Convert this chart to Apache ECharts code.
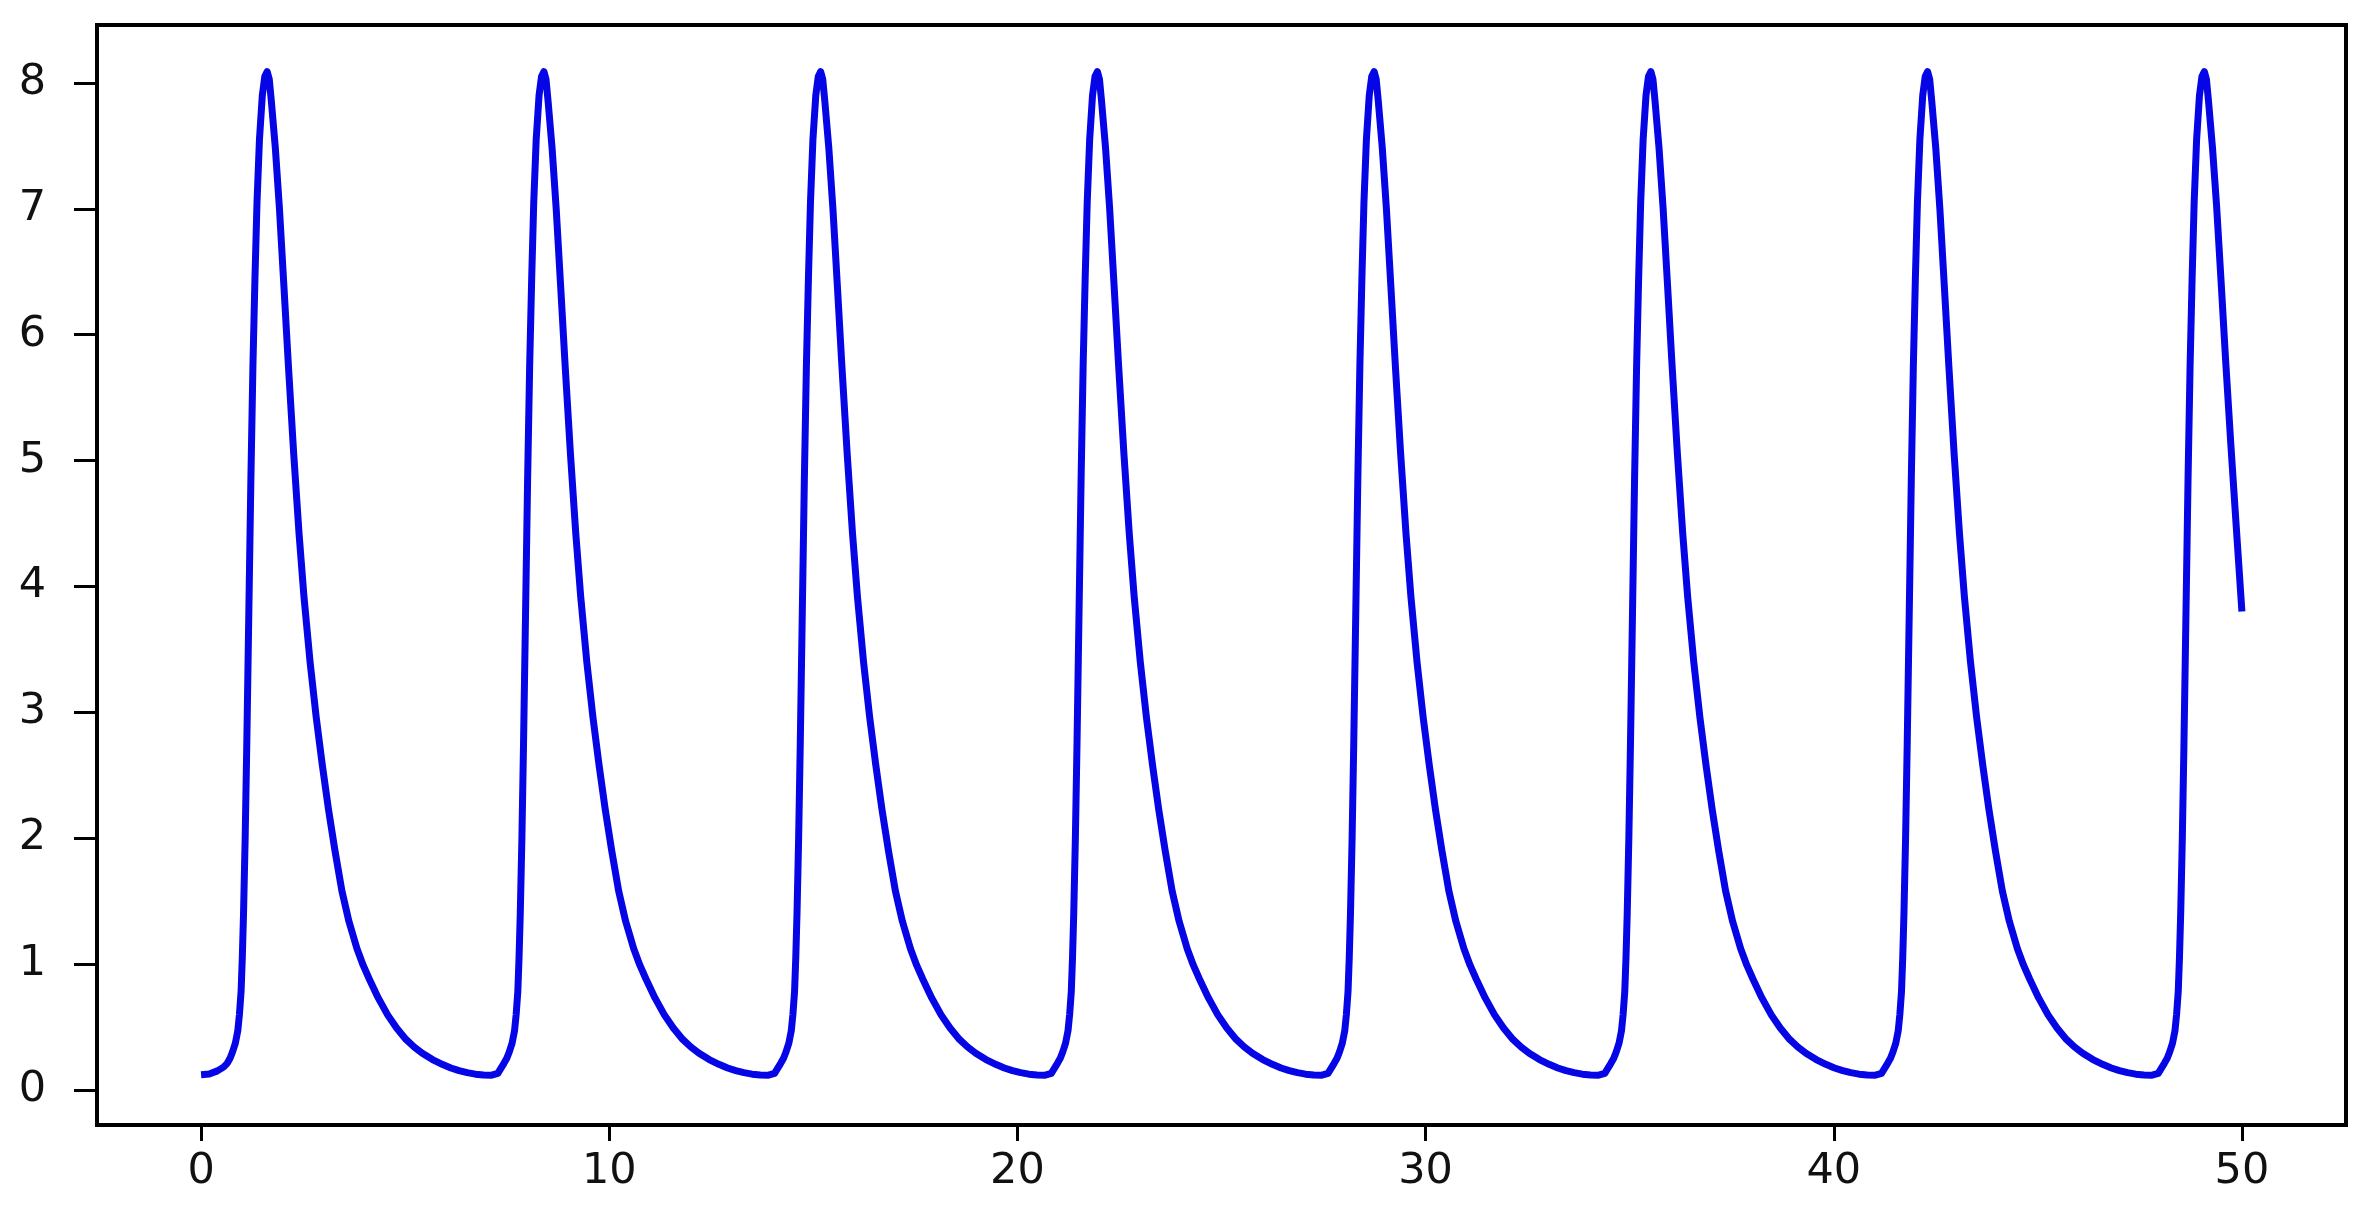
<!DOCTYPE html>
<html lang="en">

<head>
    <meta charset="UTF-8">
    <title>Spikes</title>
    <style>
        * {
            margin: 0;
            padding: 0;
        }

        body {
            background-color: #fff;
        }

        .box-body {
            width: 2369px;
            height: 1214px;
        }
    </style>
</head>

<body>
    <div id="myEcharts" class="box-body"></div>
    <script src="https://cdn.jsdelivr.net/npm/echarts@6/dist/echarts.min.js"></script>
    <script>
        // one array per spike, [t, value]
        var spike1 = [[0, 0.12], [0.2, 0.125], [0.4, 0.15], [0.55, 0.18],
            [0.64, 0.21], [0.71, 0.25], [0.77, 0.30], [0.84, 0.37], [0.90, 0.47], [0.94, 0.60], [0.98, 0.78], [1.01, 1.05], [1.04, 1.40], [1.08, 2.00], [1.12, 2.75],
            [1.17, 3.80], [1.22, 4.85], [1.27, 5.75], [1.32, 6.45], [1.37, 7.05], [1.43, 7.55], [1.50, 7.90], [1.56, 8.05], [1.62, 8.09],
            [1.67, 8.03], [1.72, 7.86], [1.82, 7.48], [1.92, 7.00], [2.03, 6.38], [2.14, 5.75], [2.27, 5.05], [2.40, 4.42], [2.52, 3.92], [2.67, 3.40], [2.82, 2.96],
            [2.97, 2.58], [3.12, 2.23], [3.28, 1.90], [3.45, 1.58], [3.62, 1.34], [3.82, 1.12], [3.97, 0.99], [4.12, 0.88], [4.34, 0.73], [4.57, 0.595], [4.79, 0.49],
            [5.02, 0.40], [5.22, 0.34], [5.42, 0.29], [5.67, 0.24], [5.92, 0.20], [6.12, 0.173], [6.32, 0.152], [6.52, 0.136], [6.72, 0.124], [6.92, 0.117], [7.12, 0.116], [7.27, 0.13]];
        var spike2 = [[7.42, 0.21], [7.49, 0.25], [7.55, 0.30], [7.62, 0.37], [7.68, 0.47], [7.72, 0.60], [7.76, 0.78], [7.79, 1.05], [7.82, 1.40], [7.86, 2.00], [7.90, 2.75],
            [7.95, 3.80], [8.00, 4.85], [8.05, 5.75], [8.10, 6.45], [8.15, 7.05], [8.21, 7.55], [8.28, 7.90], [8.34, 8.05], [8.40, 8.09],
            [8.45, 8.03], [8.50, 7.86], [8.60, 7.48], [8.70, 7.00], [8.81, 6.38], [8.92, 5.75], [9.05, 5.05], [9.18, 4.42], [9.30, 3.92], [9.45, 3.40], [9.60, 2.96],
            [9.75, 2.58], [9.90, 2.23], [10.06, 1.90], [10.23, 1.58], [10.40, 1.34], [10.60, 1.12], [10.75, 0.99], [10.90, 0.88], [11.12, 0.73], [11.35, 0.595], [11.57, 0.49],
            [11.80, 0.40], [12.00, 0.34], [12.20, 0.29], [12.45, 0.24], [12.70, 0.20], [12.90, 0.173], [13.10, 0.152], [13.30, 0.136], [13.50, 0.124], [13.70, 0.117], [13.90, 0.116], [14.05, 0.13]];
        var spike3 = [[14.20, 0.21], [14.27, 0.25], [14.33, 0.30], [14.40, 0.37], [14.46, 0.47], [14.50, 0.60], [14.54, 0.78], [14.57, 1.05], [14.60, 1.40], [14.64, 2.00], [14.68, 2.75],
            [14.73, 3.80], [14.78, 4.85], [14.83, 5.75], [14.88, 6.45], [14.93, 7.05], [14.99, 7.55], [15.06, 7.90], [15.12, 8.05], [15.18, 8.09],
            [15.23, 8.03], [15.28, 7.86], [15.38, 7.48], [15.48, 7.00], [15.59, 6.38], [15.70, 5.75], [15.83, 5.05], [15.96, 4.42], [16.08, 3.92], [16.23, 3.40], [16.38, 2.96],
            [16.53, 2.58], [16.68, 2.23], [16.84, 1.90], [17.01, 1.58], [17.18, 1.34], [17.38, 1.12], [17.53, 0.99], [17.68, 0.88], [17.90, 0.73], [18.13, 0.595], [18.35, 0.49],
            [18.58, 0.40], [18.78, 0.34], [18.98, 0.29], [19.23, 0.24], [19.48, 0.20], [19.68, 0.173], [19.88, 0.152], [20.08, 0.136], [20.28, 0.124], [20.48, 0.117], [20.68, 0.116], [20.83, 0.13]];
        var spike4 = [[20.98, 0.21], [21.05, 0.25], [21.11, 0.30], [21.18, 0.37], [21.24, 0.47], [21.28, 0.60], [21.32, 0.78], [21.35, 1.05], [21.38, 1.40], [21.42, 2.00], [21.46, 2.75],
            [21.51, 3.80], [21.56, 4.85], [21.61, 5.75], [21.66, 6.45], [21.71, 7.05], [21.77, 7.55], [21.84, 7.90], [21.90, 8.05], [21.96, 8.09],
            [22.01, 8.03], [22.06, 7.86], [22.16, 7.48], [22.26, 7.00], [22.37, 6.38], [22.48, 5.75], [22.61, 5.05], [22.74, 4.42], [22.86, 3.92], [23.01, 3.40], [23.16, 2.96],
            [23.31, 2.58], [23.46, 2.23], [23.62, 1.90], [23.79, 1.58], [23.96, 1.34], [24.16, 1.12], [24.31, 0.99], [24.46, 0.88], [24.68, 0.73], [24.91, 0.595], [25.13, 0.49],
            [25.36, 0.40], [25.56, 0.34], [25.76, 0.29], [26.01, 0.24], [26.26, 0.20], [26.46, 0.173], [26.66, 0.152], [26.86, 0.136], [27.06, 0.124], [27.26, 0.117], [27.46, 0.116], [27.61, 0.13]];
        var spike5 = [[27.76, 0.21], [27.83, 0.25], [27.89, 0.30], [27.96, 0.37], [28.02, 0.47], [28.06, 0.60], [28.10, 0.78], [28.13, 1.05], [28.16, 1.40], [28.20, 2.00], [28.24, 2.75],
            [28.29, 3.80], [28.34, 4.85], [28.39, 5.75], [28.44, 6.45], [28.49, 7.05], [28.55, 7.55], [28.62, 7.90], [28.68, 8.05], [28.74, 8.09],
            [28.79, 8.03], [28.84, 7.86], [28.94, 7.48], [29.04, 7.00], [29.15, 6.38], [29.26, 5.75], [29.39, 5.05], [29.52, 4.42], [29.64, 3.92], [29.79, 3.40], [29.94, 2.96],
            [30.09, 2.58], [30.24, 2.23], [30.40, 1.90], [30.57, 1.58], [30.74, 1.34], [30.94, 1.12], [31.09, 0.99], [31.24, 0.88], [31.46, 0.73], [31.69, 0.595], [31.91, 0.49],
            [32.14, 0.40], [32.34, 0.34], [32.54, 0.29], [32.79, 0.24], [33.04, 0.20], [33.24, 0.173], [33.44, 0.152], [33.64, 0.136], [33.84, 0.124], [34.04, 0.117], [34.24, 0.116], [34.39, 0.13]];
        var spike6 = [[34.54, 0.21], [34.61, 0.25], [34.67, 0.30], [34.74, 0.37], [34.80, 0.47], [34.84, 0.60], [34.88, 0.78], [34.91, 1.05], [34.94, 1.40], [34.98, 2.00], [35.02, 2.75],
            [35.07, 3.80], [35.12, 4.85], [35.17, 5.75], [35.22, 6.45], [35.27, 7.05], [35.33, 7.55], [35.40, 7.90], [35.46, 8.05], [35.52, 8.09],
            [35.57, 8.03], [35.62, 7.86], [35.72, 7.48], [35.82, 7.00], [35.93, 6.38], [36.04, 5.75], [36.17, 5.05], [36.30, 4.42], [36.42, 3.92], [36.57, 3.40], [36.72, 2.96],
            [36.87, 2.58], [37.02, 2.23], [37.18, 1.90], [37.35, 1.58], [37.52, 1.34], [37.72, 1.12], [37.87, 0.99], [38.02, 0.88], [38.24, 0.73], [38.47, 0.595], [38.69, 0.49],
            [38.92, 0.40], [39.12, 0.34], [39.32, 0.29], [39.57, 0.24], [39.82, 0.20], [40.02, 0.173], [40.22, 0.152], [40.42, 0.136], [40.62, 0.124], [40.82, 0.117], [41.02, 0.116], [41.17, 0.13]];
        var spike7 = [[41.32, 0.21], [41.39, 0.25], [41.45, 0.30], [41.52, 0.37], [41.58, 0.47], [41.62, 0.60], [41.66, 0.78], [41.69, 1.05], [41.72, 1.40], [41.76, 2.00], [41.80, 2.75],
            [41.85, 3.80], [41.90, 4.85], [41.95, 5.75], [42.00, 6.45], [42.05, 7.05], [42.11, 7.55], [42.18, 7.90], [42.24, 8.05], [42.30, 8.09],
            [42.35, 8.03], [42.40, 7.86], [42.50, 7.48], [42.60, 7.00], [42.71, 6.38], [42.82, 5.75], [42.95, 5.05], [43.08, 4.42], [43.20, 3.92], [43.35, 3.40], [43.50, 2.96],
            [43.65, 2.58], [43.80, 2.23], [43.96, 1.90], [44.13, 1.58], [44.30, 1.34], [44.50, 1.12], [44.65, 0.99], [44.80, 0.88], [45.02, 0.73], [45.25, 0.595], [45.47, 0.49],
            [45.70, 0.40], [45.90, 0.34], [46.10, 0.29], [46.35, 0.24], [46.60, 0.20], [46.80, 0.173], [47.00, 0.152], [47.20, 0.136], [47.40, 0.124], [47.60, 0.117], [47.80, 0.116], [47.95, 0.13]];
        var spike8 = [[48.10, 0.21], [48.17, 0.25], [48.23, 0.30], [48.30, 0.37], [48.36, 0.47], [48.40, 0.60], [48.44, 0.78], [48.47, 1.05], [48.50, 1.40], [48.54, 2.00], [48.58, 2.75],
            [48.63, 3.80], [48.68, 4.85], [48.73, 5.75], [48.78, 6.45], [48.83, 7.05], [48.89, 7.55], [48.96, 7.90], [49.02, 8.05], [49.08, 8.09],
            [49.13, 8.03], [49.18, 7.86], [49.28, 7.48], [49.38, 7.02], [49.49, 6.42], [49.60, 5.80], [49.73, 5.12], [49.86, 4.48], [50.00, 3.80]];

        var xTicks = [0, 10, 20, 30, 40, 50];
        var yTicks = [0, 1, 2, 3, 4, 5, 6, 7, 8];

        var echartsUtil = {
            params: {
                myEcharts: null,
            },
            init: function () {
                this.load();
            },
            load: function () {
                this.params.myEcharts = echarts.init(document.getElementById('myEcharts'));
                this.params.myEcharts.setOption(this.getOption());
            },
            getOption: function () {
                var lineData = spike1.concat(spike2, spike3, spike4, spike5, spike6, spike7, spike8);
                var labelStyle = {
                    fontFamily: 'DejaVu Sans',
                    fontSize: 43,
                    color: '#111'
                };

                var option = {
                    backgroundColor: '#fff',
                    animation: false,
                    grid: {
                        left: 97,
                        right: 23,
                        top: 25,
                        bottom: 89,
                        show: true,
                        borderColor: '#000',
                        borderWidth: 4,
                        containLabel: false
                    },
                    xAxis: {
                        type: 'value',
                        min: -2.55,
                        max: 52.55,
                        splitLine: { show: false },
                        axisLine: {
                            onZero: false,
                            lineStyle: { color: '#000', width: 4 }
                        },
                        axisTick: {
                            customValues: xTicks,
                            length: 16,
                            lineStyle: { color: '#000', width: 3 }
                        },
                        axisLabel: Object.assign({
                            customValues: xTicks,
                            margin: 25
                        }, labelStyle)
                    },
                    yAxis: {
                        type: 'value',
                        min: -0.28,
                        max: 8.46,
                        splitLine: { show: false },
                        axisLine: {
                            show: true,
                            onZero: false,
                            lineStyle: { color: '#000', width: 4 }
                        },
                        axisTick: {
                            show: true,
                            customValues: yTicks,
                            length: 23,
                            lineStyle: { color: '#000', width: 3 }
                        },
                        axisLabel: Object.assign({
                            customValues: yTicks,
                            margin: 51
                        }, labelStyle)
                    },
                    series: [{
                        type: 'line',
                        data: lineData,
                        showSymbol: false,
                        lineStyle: {
                            color: '#0505e6',
                            width: 7,
                            join: 'round'
                        }
                    }]
                };

                return option;
            }
        };

        echartsUtil.init();
    </script>
</body>

</html>
